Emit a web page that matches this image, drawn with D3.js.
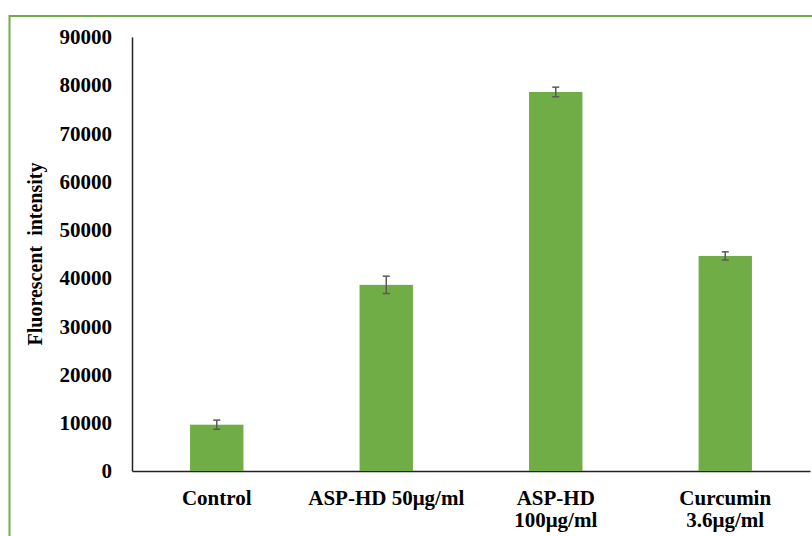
<!DOCTYPE html>
<html>
<head>
<meta charset="utf-8">
<script src="https://cdn.jsdelivr.net/npm/d3@7"></script>
<style>
  body { margin: 0; background: #fff; }
  text { font-family: "Liberation Serif", "Times New Roman", serif; font-weight: bold; }
</style>
</head>
<body>
<script>
const categories = [["Control"], ["ASP-HD 50μg/ml"], ["ASP-HD", "100μg/ml"], ["Curcumin", "3.6μg/ml"]]
const values = [9600, 38600, 78600, 44600]
const errors = [950, 1800, 1000, 850]
const yTicks = [0, 10000, 20000, 30000, 40000, 50000, 60000, 70000, 80000, 90000]

const svgWidth = 812
const svgHeight = 536

const margin = { top: 37, right: 2, bottom: 65, left: 132 }
const chartWidth = svgWidth - margin.left - margin.right
const chartHeight = svgHeight - margin.top - margin.bottom

const svg = d3.select("body").append("svg")
  .attr("width", svgWidth)
  .attr("height", svgHeight)

// green frame
svg.append("rect")
  .attr("x", 9.5)
  .attr("y", 16)
  .attr("width", 900)
  .attr("height", 600)
  .attr("fill", "none")
  .attr("stroke", "#70ad47")
  .attr("stroke-width", 2)

const chartG = svg.append("g")
  .attr("transform", `translate(${margin.left}, ${margin.top})`)

const x = d3.scaleBand()
  .domain(categories.map((d, i) => i))
  .range([0, chartWidth])
  .paddingInner(0.685)
  .paddingOuter(0.3425)

const y = d3.scaleLinear()
  .domain([0, 90000])
  .range([chartHeight, 0])

const yAxis = d3.axisLeft(y)
  .tickValues(yTicks)
  .tickSize(0)
  .tickPadding(20)
  .tickFormat(d3.format("d"))

const yAxisG = chartG.append("g").call(yAxis)
yAxisG.select(".domain").attr("stroke", "#222").attr("stroke-width", 1.5)
yAxisG.selectAll("text").attr("font-size", 21).attr("fill", "#000")
  .attr("font-family", "Liberation Serif").attr("font-weight", "bold")

const xAxis = d3.axisBottom(x).tickSize(0).tickFormat("")
const xAxisG = chartG.append("g")
  .attr("transform", `translate(0, ${chartHeight})`)
  .call(xAxis)
xAxisG.select(".domain").attr("stroke", "#222").attr("stroke-width", 1.5)

// category labels, one text per line
categories.forEach((lines, i) => {
  lines.forEach((l, j) => {
    chartG.append("text")
      .attr("x", x(i) + x.bandwidth() / 2)
      .attr("y", chartHeight + 34 + j * 22)
      .attr("text-anchor", "middle")
      .attr("font-size", 21)
      .attr("fill", "#000")
      .text(l)
  })
})

// bars
chartG.selectAll("rect.bar")
  .data(values)
  .enter()
  .append("rect")
  .attr("class", "bar")
  .attr("x", (d, i) => x(i))
  .attr("y", d => y(d))
  .attr("width", x.bandwidth())
  .attr("height", d => chartHeight - y(d))
  .attr("fill", "#70ad47")

// error bars
const errG = chartG.append("g")
  .attr("stroke", "#595959")
  .attr("stroke-width", 1.5)
values.forEach((v, i) => {
  const cx = x(i) + x.bandwidth() / 2
  const top = y(v + errors[i])
  const bot = y(v - errors[i])
  errG.append("line").attr("x1", cx).attr("x2", cx).attr("y1", top).attr("y2", bot)
  errG.append("line").attr("x1", cx - 3.5).attr("x2", cx + 3.5).attr("y1", top).attr("y2", top)
  errG.append("line").attr("x1", cx - 3.5).attr("x2", cx + 3.5).attr("y1", bot).attr("y2", bot)
})

// y title
svg.append("text")
  .attr("transform", `translate(42, ${margin.top + chartHeight / 2}) rotate(-90)`)
  .attr("text-anchor", "middle")
  .attr("font-size", 20)
  .attr("fill", "#000")
  .attr("xml:space", "preserve")
  .style("white-space", "pre")
  .text("Fluorescent  intensity")
</script>
</body>
</html>
